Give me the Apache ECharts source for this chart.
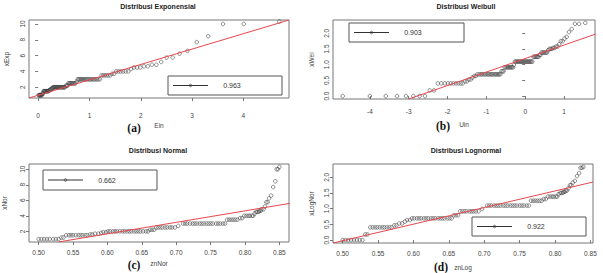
<!DOCTYPE html>
<html><head><meta charset="utf-8">
<script src="https://cdn.jsdelivr.net/npm/echarts@6/dist/echarts.min.js"></script>
<style>html,body{margin:0;padding:0;background:#fff}#c{width:603px;height:273px}</style>
</head><body><div id="c"></div>
<script>
const sampleRaw = [1,1,1,1,1,1,1,1,
 1.2,1.2,
 1.5,1.5,1.5,1.5,1.5,1.5,1.5,1.5,1.5,1.5,
 1.6,1.6,1.7,1.7,1.8,1.9,1.9,
 2,2,2,2,2,2,2,2,2,2,2,2,2,2,2,2,2,2,
 2.2,2.2,2.2,
 2.5,2.5,2.5,2.5,2.5,2.5,2.5,2.5,2.5,
 2.7,
 3,3,3,3,3,3,3,3,3,3,3,3,3,3,3,3,3,3,3,
 3.5,3.5,3.5,3.5,3.5,3.5,
 3.7,3.7,
 4,4,4,4,4,4,
 4.3,4.5,4.5,4.5,
 4.65,4.65,4.85,4.85,5.2,5.75,5.75,6.25,6.6,7.7,8.45,10,10,10.3];
const sampleLn = [0,0,0,0,0,0,0,0,
 0.18,0.18,
 0.405,0.405,0.405,0.405,0.405,0.405,0.405,0.405,0.405,0.405,
 0.47,0.47,0.53,0.53,0.59,0.64,0.64,
 0.693,0.693,0.693,0.693,0.693,0.693,0.693,0.693,0.693,0.693,0.693,0.693,0.693,0.693,0.693,0.693,0.693,0.693,
 0.79,0.79,0.79,
 0.916,0.916,0.916,0.916,0.916,0.916,0.916,0.916,0.916,
 0.993,
 1.099,1.099,1.099,1.099,1.099,1.099,1.099,1.099,1.099,1.099,1.099,1.099,1.099,1.099,1.099,1.099,1.099,1.099,1.099,
 1.253,1.253,1.253,1.253,1.253,1.253,
 1.308,1.308,
 1.386,1.386,1.386,1.386,1.386,1.386,
 1.459,1.504,1.504,1.504,
 1.537,1.537,1.579,1.579,1.649,1.749,1.749,1.833,1.887,2.041,2.134,2.303,2.303,2.332];
// Theoretical quantiles (x values) per panel
const ein = [0.009,0.018,0.028,0.037,0.047,0.056,0.066,0.076,0.085,0.095,
 0.105,0.116,0.126,0.136,0.147,0.157,0.168,0.179,0.19,0.201,
 0.212,0.223,0.235,0.246,0.258,0.27,0.282,0.294,0.306,0.319,
 0.331,0.344,0.357,0.37,0.383,0.396,0.41,0.424,0.438,0.452,
 0.466,0.481,0.496,0.511,0.526,0.542,0.557,0.573,0.59,0.606,
 0.623,0.64,0.658,0.675,0.693,0.712,0.73,0.749,0.769,0.789,
 0.809,0.829,0.85,0.872,0.894,0.916,0.939,0.963,0.987,1.012,
 1.037,1.063,1.09,1.117,1.145,1.174,1.204,1.235,1.267,1.299,
 1.333,1.368,1.405,1.442,1.482,1.522,1.565,1.609,1.656,1.705,
 1.756,1.81,1.867,1.928,1.992,2.061,2.136,2.216,2.303,2.398,
 2.503,2.621,2.755,2.909,3.091,3.314,3.602,4.007,4.70];
const uin = [-4.70,-4.00,-3.59,-3.30,-3.07,-2.88,-2.72,-2.58,-2.46,-2.35,
 -2.25,-2.16,-2.07,-1.99,-1.92,-1.85,-1.78,-1.72,-1.66,-1.61,
 -1.55,-1.50,-1.45,-1.40,-1.36,-1.31,-1.27,-1.23,-1.18,-1.14,
 -1.11,-1.07,-1.03,-0.995,-0.96,-0.925,-0.89,-0.86,-0.83,-0.79,
 -0.76,-0.73,-0.70,-0.67,-0.64,-0.61,-0.58,-0.556,-0.53,-0.50,
 -0.47,-0.446,-0.42,-0.39,-0.367,-0.34,-0.31,-0.29,-0.263,-0.24,
 -0.21,-0.187,-0.162,-0.137,-0.112,-0.087,-0.063,-0.038,-0.013,0.012,
 0.036,0.061,0.086,0.111,0.135,0.16,0.186,0.211,0.236,0.262,
 0.288,0.314,0.34,0.366,0.393,0.42,0.448,0.476,0.504,0.533,
 0.563,0.593,0.625,0.656,0.689,0.723,0.759,0.796,0.834,0.875,
 0.918,0.964,1.013,1.068,1.128,1.198,1.281,1.388,1.548];
const znNor = [0.500,0.504,0.508,0.512,0.516,0.521,0.525,0.529,
 0.533,0.536,
 0.540,0.544,0.547,0.550,0.554,0.558,0.561,0.564,0.568,0.571,
 0.575,0.578,0.582,0.587,0.591,0.594,0.598,
 0.601,0.604,0.608,0.611,0.614,0.618,0.622,0.625,0.629,0.632,0.635,0.639,0.642,0.645,0.648,0.652,0.656,0.659,
 0.662,0.665,0.668,
 0.671,0.674,0.677,0.680,0.684,0.687,0.691,0.694,0.698,
 0.703,
 0.710,0.713,0.716,0.720,0.724,0.727,0.730,0.734,0.737,0.740,0.744,0.747,0.750,0.753,0.758,0.761,0.764,0.768,0.771,
 0.774,0.777,0.780,0.783,0.786,0.789,
 0.793,0.796,
 0.799,0.802,0.805,0.807,0.810,0.812,
 0.814,0.816,0.818,0.820,
 0.821,0.823,0.824,0.827,0.829,0.831,0.833,0.835,0.838,0.841,0.844,0.846,0.848,0.850];
const znLog = [0.500,0.504,0.508,0.512,0.516,0.520,0.524,0.528,
 0.532,0.535,
 0.539,0.5425,0.546,0.549,0.5525,0.556,0.559,0.5625,0.566,0.569,
 0.573,0.576,0.580,0.584,0.588,0.591,0.595,
 0.598,0.601,0.605,0.608,0.611,0.615,0.618,0.621,0.625,0.628,0.631,0.635,0.638,0.641,0.644,0.648,0.651,0.654,
 0.657,0.660,0.663,
 0.666,0.669,0.672,0.675,0.679,0.682,0.685,0.688,0.692,
 0.697,
 0.704,0.707,0.710,0.714,0.717,0.720,0.723,0.727,0.730,0.733,0.737,0.740,0.743,0.746,0.750,0.753,0.756,0.760,0.763,
 0.766,0.769,0.772,0.775,0.778,0.781,
 0.784,0.787,
 0.790,0.793,0.796,0.798,0.801,0.803,
 0.805,0.807,0.809,0.811,
 0.812,0.814,0.815,0.817,0.819,0.821,0.823,0.825,0.828,0.831,0.834,0.836,0.838,0.840];
// Reference (fit) lines: two end points each
const fitA = [[-0.18, 0.64], [4.89, 10.5]];
const fitB = [[-3.0, -0.093], [1.80, 1.97]];
const fitC = [[0.529, 0.63], [0.865, 5.6]];
const fitD = [[0.4864, -0.093], [0.8536, 1.85]];
// Tick values
const ticksAx = [0, 1, 2, 3, 4];
const ticksAy = [2, 4, 6, 8, 10];
const ticksBx = [-4, -3, -2, -1, 0, 1];
const ticksBy = [0, 0.5, 1, 1.5, 2];
const ticksCx = [0.50, 0.55, 0.60, 0.65, 0.70, 0.75, 0.80, 0.85];
const ticksCy = [2, 4, 6, 8, 10];
const ticksDx = [0.50, 0.55, 0.60, 0.65, 0.70, 0.75, 0.80, 0.85];
const ticksDy = [0, 0.5, 1, 1.5, 2];
const titles = ['Distribusi Exponensial', 'Distribusi Weibull', 'Distribusi Normal', 'Distribusi Lognormal'];
const xNames = ['Ein', 'Uin', 'znNor', 'znLog'];
const yNames = ['xExp', 'xWei', 'xNor', 'xLogNor'];
const panelTags = ['(a)', '(b)', '(c)', '(d)'];
const corrVals = ['0.963', '0.903', '0.662', '0.922'];

const zip = (xs, ys) => xs.map((x, i) => [x, ys[i]]);
const FONT = 'Liberation Sans, Arial, sans-serif';
const panels = [
  {grid:{left:29,top:20,width:260,height:78}, xr:[-0.178,4.888], yr:[0.64,10.5], xt:ticksAx, yt:ticksAy, xf:v=>String(v), yf:v=>String(v), xs:ein, ys:sampleRaw, fit:fitA, xm:14, xg:24, yg:19,
   title:[158,6], tag:[134,127.5], leg:[168,76,114,19]},
  {grid:{left:333,top:20,width:262,height:79}, xr:[-4.95,1.798], yr:[-0.093,2.425], xt:ticksBx, yt:ticksBy, xf:v=>String(v), yf:v=>v.toFixed(1), xs:uin, ys:sampleLn, fit:fitB, xm:9, xg:22, yg:18,
   title:[466,6], tag:[443,126], leg:[349,23,115,19]},
  {grid:{left:28,top:164,width:261,height:78}, xr:[0.486,0.864], yr:[0.628,10.672], xt:ticksCx, yt:ticksCy, xf:v=>v.toFixed(2), yf:v=>String(v), xs:znNor, ys:sampleRaw, fit:fitC, xm:7, xg:18, yg:21,
   title:[158,150], tag:[134,264.5], leg:[43,170,114,20]},
  {grid:{left:333,top:164,width:260,height:79}, xr:[0.4864,0.8536], yr:[-0.093,2.425], xt:ticksDx, yt:ticksDy, xf:v=>v.toFixed(2), yf:v=>v.toFixed(1), xs:znLog, ys:sampleLn, fit:fitD, xm:7, xg:21, yg:18,
   title:[466,150], tag:[441,267], leg:[472,217,114,19]}
];

const grid = [], xAxis = [], yAxis = [], series = [], graphic = [];
panels.forEach((p, k) => {
  grid.push(Object.assign({show:true, borderColor:'#777', borderWidth:1, backgroundColor:'transparent'}, p.grid));
  xAxis.push({type:'value', gridIndex:k, min:p.xr[0], max:p.xr[1], splitLine:{show:false},
    axisLine:{show:false}, axisTick:{show:true, inside:false, length:3, lineStyle:{color:'#777'}, customValues:p.xt},
    axisLabel:{customValues:p.xt, formatter:p.xf, fontSize:6.5, color:'#444', margin:p.xm, fontFamily:FONT},
    name:xNames[k], nameLocation:'middle', nameGap:p.xg, nameTextStyle:{fontSize:6.5, color:'#444', fontFamily:FONT}});
  yAxis.push({type:'value', gridIndex:k, min:p.yr[0], max:p.yr[1], splitLine:{show:false},
    axisLine:{show:false}, axisTick:{show:true, inside:false, length:3, lineStyle:{color:'#777'}, customValues:p.yt},
    axisLabel:{customValues:p.yt, formatter:p.yf, fontSize:6.5, color:'#444', margin:3, rotate:90, fontFamily:FONT},
    name:yNames[k], nameLocation:'middle', nameGap:p.yg, nameRotate:90, nameTextStyle:{fontSize:6.5, color:'#444', fontFamily:FONT}});
  series.push({type:'scatter', xAxisIndex:k, yAxisIndex:k, data:zip(p.xs, p.ys), symbol:'circle', symbolSize:3.6,
    itemStyle:{color:'rgba(0,0,0,0)', borderColor:'#3a3a3a', borderWidth:0.7}, emphasis:{disabled:true}, silent:true, z:3});
  series.push({type:'line', xAxisIndex:k, yAxisIndex:k, data:p.fit, showSymbol:false, clip:true,
    lineStyle:{color:'#e8474c', width:1}, emphasis:{disabled:true}, silent:true, z:4});
  graphic.push({type:'text', x:p.title[0], y:p.title[1], style:{text:titles[k], font:'bold 7px '+FONT, fill:'#222', align:'center', verticalAlign:'middle'}});
  graphic.push({type:'text', x:p.tag[0], y:p.tag[1], style:{text:panelTags[k], font:'bold 11.5px "Liberation Serif", "Times New Roman", serif', fill:'#111', align:'center', verticalAlign:'middle'}});
  const [lx, ly, lw, lh] = p.leg;
  const cy = ly + lh / 2;
  graphic.push({type:'rect', shape:{x:lx, y:ly, width:lw, height:lh}, style:{fill:'#fff', stroke:'#555', lineWidth:1}});
  graphic.push({type:'line', shape:{x1:lx+5, y1:cy, x2:lx+40, y2:cy}, style:{stroke:'#333', lineWidth:1}});
  graphic.push({type:'circle', shape:{cx:lx+22.5, cy:cy, r:1.3}, style:{fill:'none', stroke:'#333', lineWidth:0.7}});
  graphic.push({type:'text', x:lx+64, y:cy, style:{text:corrVals[k], font:'7px '+FONT, fill:'#333', align:'center', verticalAlign:'middle'}});
});

const chart = echarts.init(document.getElementById('c'), null, {renderer:'svg', width:603, height:273});
chart.setOption({backgroundColor:'#fff', animation:false, grid, xAxis, yAxis, series, graphic});
</script></body></html>
